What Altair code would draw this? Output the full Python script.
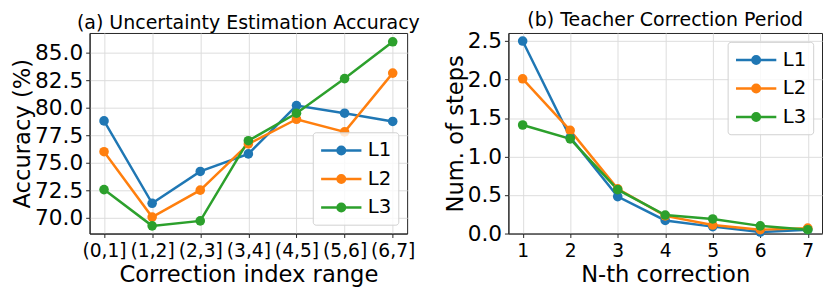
import altair as alt
import pandas as pd

# ---- data ----
series = ["L1", "L2", "L3"]
colors = ["#1f77b4", "#ff7f0e", "#2ca02c"]

ranges = ["(0,1]", "(1,2]", "(2,3]", "(3,4]", "(4,5]", "(5,6]", "(6,7]"]
acc_L1 = [78.8, 71.3, 74.2, 75.8, 80.2, 79.5, 78.75]
acc_L2 = [76.0, 70.05, 72.5, 76.7, 78.95, 77.8, 83.15]
acc_L3 = [72.55, 69.25, 69.7, 77.0, 79.5, 82.65, 86.0]

nth = [1, 2, 3, 4, 5, 6, 7]
steps_L1 = [2.50, 1.25, 0.48, 0.17, 0.09, 0.02, 0.05]
steps_L2 = [2.01, 1.34, 0.58, 0.23, 0.11, 0.05, 0.07]
steps_L3 = [1.41, 1.23, 0.57, 0.24, 0.19, 0.10, 0.05]

acc_ticks = [70.0, 72.5, 75.0, 77.5, 80.0, 82.5, 85.0]
step_ticks = [0.0, 0.5, 1.0, 1.5, 2.0, 2.5]

acc_rows = []
for s, vals in zip(series, [acc_L1, acc_L2, acc_L3]):
    for r, v in zip(ranges, vals):
        acc_rows.append({"range": r, "acc": v, "series": s})
df_acc = pd.DataFrame(acc_rows)

step_rows = []
for s, vals in zip(series, [steps_L1, steps_L2, steps_L3]):
    for n, v in zip(nth, vals):
        step_rows.append({"n": n, "steps": v, "series": s})
df_steps = pd.DataFrame(step_rows)

FONT = "DejaVu Sans"


def circle(cx, r):
    return (f"M{cx - r},0A{r},{r} 0 1,0 {cx + r},0"
            f"A{r},{r} 0 1,0 {cx - r},0Z")


# legend symbol: line with a dot (scale 10 px / unit)
sym_path = "M-1,0L3.1,0" + circle(1.05, 0.1) + circle(1.05, 0.25) + circle(1.05, 0.38)


def legend(orient):
    return alt.Legend(
        title=None, orient=orient, offset=9,
        fillColor="rgba(255,255,255,0.8)", strokeColor="#d0d0d0",
        cornerRadius=3, padding=7,
        labelFontSize=20, labelFont=FONT, labelColor="#000",
        symbolType=sym_path, symbolSize=400, symbolStrokeWidth=2.5,
        labelOffset=26, rowPadding=7,
    )


color_scale = alt.Scale(domain=series, range=colors)

# ---- panel (a) ----
xa = alt.X("range:N", sort=ranges,
           scale=alt.Scale(type="point", padding=0.3),
           axis=alt.Axis(title="Correction index range", labelAngle=0,
                         labelFontSize=19, grid=True, labelPadding=4,
                         titlePadding=4))
ya = alt.Y("acc:Q", scale=alt.Scale(domain=[68.55, 86.8], nice=False, zero=False),
           axis=alt.Axis(title="Accuracy (%)", values=acc_ticks, format=".1f",
                         labelFontSize=22, titlePadding=0))
base_a = alt.Chart(df_acc)
line_a = base_a.mark_line(strokeWidth=2.5).encode(
    x=xa, y=ya, color=alt.Color("series:N", scale=color_scale, legend=legend("bottom-right")))
pts_a = base_a.mark_point(filled=True, size=95, opacity=1).encode(
    x=xa, y=ya, color=alt.Color("series:N", scale=color_scale, legend=legend("bottom-right")))
chart_a = alt.layer(line_a, pts_a).properties(
    width=323, height=204,
    title=alt.TitleParams("(a) Uncertainty Estimation Accuracy", fontSize=19.3,
                          font=FONT, fontWeight="normal", offset=0, color="#000"))

# ---- panel (b) ----
xb = alt.X("n:Q", scale=alt.Scale(domain=[0.7, 7.3], nice=False, zero=False),
           axis=alt.Axis(title="N-th correction", values=nth, format="d",
                         labelFontSize=19, labelPadding=4, titlePadding=4))
yb = alt.Y("steps:Q", scale=alt.Scale(domain=[0, 2.605], nice=False),
           axis=alt.Axis(title="Num. of steps", values=step_ticks, format=".1f",
                         labelFontSize=22, titlePadding=0))
base_b = alt.Chart(df_steps)
line_b = base_b.mark_line(strokeWidth=2.5).encode(
    x=xb, y=yb, color=alt.Color("series:N", scale=color_scale, legend=legend("top-right")))
pts_b = base_b.mark_point(filled=True, size=95, opacity=1).encode(
    x=xb, y=yb, color=alt.Color("series:N", scale=color_scale, legend=legend("top-right")))
chart_b = alt.layer(line_b, pts_b).properties(
    width=319, height=204,
    title=alt.TitleParams("(b) Teacher Correction Period", fontSize=19.3,
                          font=FONT, fontWeight="normal", offset=0, color="#000"))

chart = alt.hconcat(chart_a, chart_b, spacing=23).resolve_scale(
    color="independent").configure(
    font=FONT, padding={"left": 3, "top": 0, "right": 0, "bottom": 0}
).configure_axis(
    labelFont=FONT, titleFont=FONT, labelColor="#000", titleColor="#000",
    titleFontSize=23, titleFontWeight="normal",
    grid=True, gridColor="#dcdcdc", gridWidth=1,
    domainColor="#222", domainWidth=1, tickColor="#222", tickSize=4,
    labelPadding=3,
).configure_view(
    stroke="#222", strokeWidth=1
)

chart.save("out.html", embed_options={"renderer": "svg", "actions": False})
